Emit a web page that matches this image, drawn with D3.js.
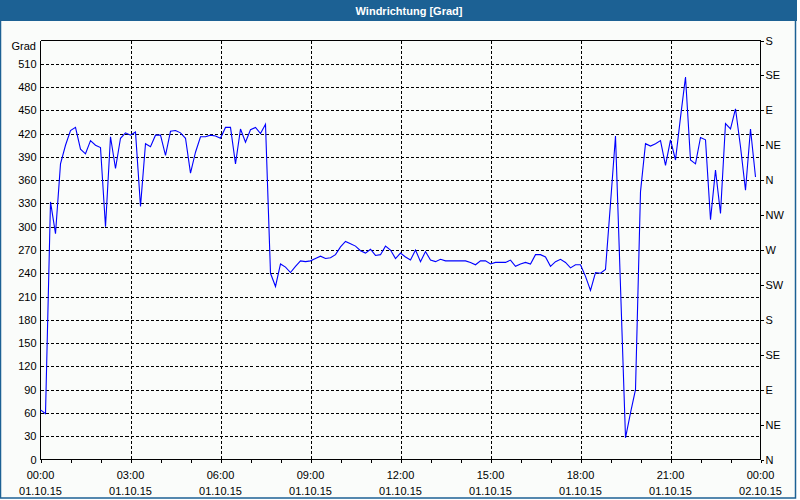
<!DOCTYPE html>
<html>
<head>
<meta charset="utf-8">
<script src="https://cdn.jsdelivr.net/npm/d3@7"></script>
<style>
  html, body { margin: 0; padding: 0; background: #ffffff; }
  svg { display: block; }
  text { font-family: "Liberation Sans", Arial, sans-serif; font-size: 11px; fill: #000; }
</style>
</head>
<body>
<svg id="chart" width="800" height="500"></svg>
<script>
// ---------- data ----------
const chartTitle = "Windrichtung [Grad]";
const yAxisLabel = "Grad";
const startTime = new Date(2015, 9, 1, 0, 0);
const endTime = new Date(2015, 9, 2, 0, 0);
const sampleMinutes = 10;
// wind direction every 10 minutes, 00:00 .. 23:50
const windDirection = [
  64, 59, 332, 291, 381, 405, 424, 428, 400, 394,
  411, 405, 402, 300, 416, 375, 414, 421, 418, 422,
  326, 407, 403, 418, 418, 392, 423, 424, 421, 414,
  369, 396, 416, 416, 418, 417, 414, 428, 428, 381,
  426, 409, 425, 428, 420, 432, 240, 223, 252, 248,
  241, 249, 256, 255, 256, 259, 262, 259, 260, 264,
  274, 281, 278, 275, 269, 266, 271, 263, 264, 275,
  270, 259, 266, 261, 257, 270, 255, 268, 257, 255,
  258, 256, 256, 256, 256, 256, 254, 251, 256, 256,
  252, 254, 254, 254, 257, 249, 252, 254, 252, 264,
  264, 261, 249, 255, 258, 254, 247, 251, 251, 236,
  218, 241, 240, 245, 330, 417, 223, 28, 60, 90,
  345, 407, 404, 407, 411, 379, 412, 386, 441, 493,
  386, 381, 415, 412, 309, 373, 317, 433, 426, 452,
  403, 347, 426, 364
];
const sampleTimes = d3.timeMinute.every(sampleMinutes).range(startTime, endTime).slice(0, windDirection.length);
const leftTicks = [0, 30, 60, 90, 120, 150, 180, 210, 240, 270, 300, 330, 360, 390, 420, 450, 480, 510];
const compassTicks = [0, 45, 90, 135, 180, 225, 270, 315, 360, 405, 450, 495, 540];
const compassLabels = ["N", "NE", "E", "SE", "S", "SW", "W", "NW", "N", "NE", "E", "SE", "S"];
const yMax = 540;

// ---------- layout ----------
const svg = d3.select("#chart");
const plot = { left: 40.5, right: 760.5, top: 40.5, bottom: 459.5 };
const colors = { bg: "#fafcfa", bar: "#1c6194", line: "#0000ff", grid: "#000" };

const x = d3.scaleTime().domain([startTime, endTime]).range([plot.left, plot.right]);
const y = d3.scaleLinear().domain([0, yMax]).range([plot.bottom, plot.top]);

// background + frame
svg.append("rect").attr("x", 0).attr("y", 0).attr("width", 800).attr("height", 500).attr("fill", "#ffffff");
svg.append("rect").attr("x", 0.5).attr("y", 0.5).attr("width", 795).attr("height", 497.5)
  .attr("fill", colors.bg).attr("stroke", colors.bar).attr("stroke-width", 1.5);
svg.append("rect").attr("x", 0).attr("y", 0).attr("width", 797).attr("height", 21).attr("fill", colors.bar);
svg.append("text").attr("x", 409).attr("y", 10.5).attr("text-anchor", "middle")
  .attr("dominant-baseline", "central").style("fill", "#fff").style("font-weight", "bold")
  .text(chartTitle);

// grid
const grid = svg.append("g").attr("shape-rendering", "crispEdges")
  .attr("stroke", colors.grid).attr("stroke-dasharray", "3,2").attr("stroke-width", 1);
grid.selectAll("line.h").data(leftTicks.filter(d => d > 0)).join("line")
  .attr("x1", plot.left).attr("x2", plot.right)
  .attr("y1", d => Math.round(y(d)) + 0.5).attr("y2", d => Math.round(y(d)) + 0.5);
const majorTimes = d3.timeHour.every(3).range(startTime, d3.timeMinute.offset(endTime, 1));
grid.selectAll("line.v").data(majorTimes.filter(d => +d !== +startTime && +d !== +endTime)).join("line")
  .attr("x1", d => Math.round(x(d)) + 0.5).attr("x2", d => Math.round(x(d)) + 0.5)
  .attr("y1", plot.top).attr("y2", plot.bottom);

// axes
const bottomAxis = d3.axisBottom(x).ticks(d3.timeHour.every(1)).tickSize(3).tickFormat("");
const gb = svg.append("g").attr("transform", `translate(0,${plot.bottom})`).call(bottomAxis);
gb.select(".domain").attr("d", `M${plot.left},0H${plot.right}`);
gb.attr("shape-rendering", "crispEdges");

const labelG = svg.append("g");
majorTimes.forEach(t => {
  const xx = x(t);
  labelG.append("text").attr("x", xx).attr("y", 479).attr("text-anchor", "middle").text(d3.timeFormat("%H:%M")(t));
  labelG.append("text").attr("x", xx).attr("y", 495).attr("text-anchor", "middle").text(d3.timeFormat("%d.%m.%y")(t));
});

const leftAxis = d3.axisLeft(y).tickValues(leftTicks).tickSize(0).tickPadding(4);
const gl = svg.append("g").attr("transform", `translate(${plot.left},0)`).call(leftAxis);
gl.select(".domain").attr("d", `M0,${plot.top}V${plot.bottom}`);
gl.attr("shape-rendering", "crispEdges");
gl.selectAll("text").style("font-family", "Liberation Sans, Arial, sans-serif").style("font-size", "11px").attr("fill", "#000");

const rightAxis = d3.axisRight(y).tickValues(compassTicks).tickSize(3).tickPadding(2)
  .tickFormat((d, i) => compassLabels[i]);
const gr = svg.append("g").attr("transform", `translate(${plot.right},0)`).call(rightAxis);
gr.select(".domain").attr("d", `M0,${plot.top}V${plot.bottom}`);
gr.attr("shape-rendering", "crispEdges");
gr.selectAll("text").style("font-family", "Liberation Sans, Arial, sans-serif").style("font-size", "11px").attr("fill", "#000");

// top frame line
svg.append("line").attr("x1", plot.left).attr("x2", plot.right).attr("y1", plot.top).attr("y2", plot.top)
  .attr("stroke", "#000").attr("shape-rendering", "crispEdges");

svg.append("text").attr("x", 36).attr("y", 46).attr("text-anchor", "end").attr("dominant-baseline", "central").text(yAxisLabel);

// data line
const line = d3.line().x((d, i) => x(sampleTimes[i])).y(d => y(d));
svg.append("path").datum(windDirection).attr("d", line)
  .attr("fill", "none").attr("stroke", colors.line).attr("stroke-width", 1.1);
</script>
</body>
</html>
